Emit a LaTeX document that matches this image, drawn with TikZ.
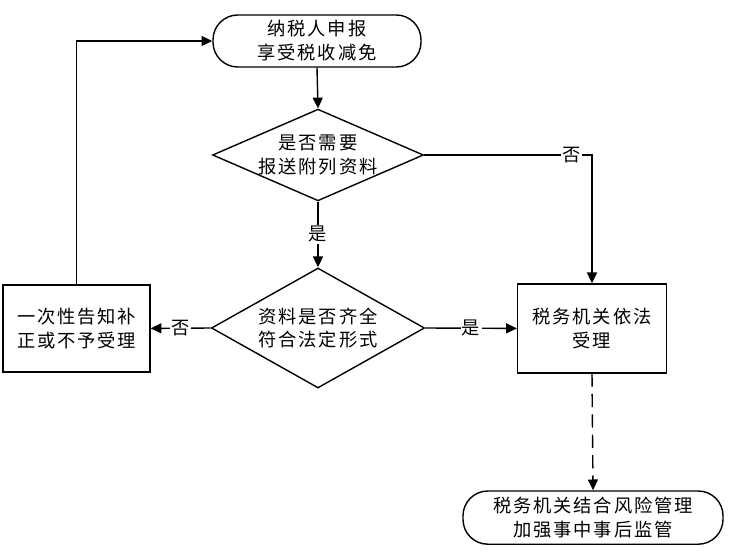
\documentclass[tikz,border=0pt]{standalone}
\usepackage{fontspec}
\setmainfont{Noto Sans CJK SC}[LetterSpace=10]
\usetikzlibrary{shapes.geometric,arrows.meta}

\begin{document}
\begin{tikzpicture}[
  every node/.style={font=\fontsize{13pt}{17pt}\selectfont, align=center},
  startend/.style={draw, rounded corners=0.62cm, line width=1pt, inner sep=0pt},
  decision/.style={draw, diamond, aspect=2.3, line width=1pt, inner sep=0pt},
  process/.style={draw, rectangle, line width=1pt, inner sep=0pt},
  flow/.style={line width=1pt, -{Triangle[length=2.7mm,width=2.5mm]}},
  tag/.style={fill=white, inner sep=1pt}
]
\useasboundingbox (0,0) rectangle (18.45,-13.95);

% 绘制节点
\node[startend, minimum width=5.2cm, minimum height=1.3cm] (apply) at (7.925,-1.025) {纳税人申报\\享受税收减免}; % 开始
\node[decision, minimum width=5.25cm, minimum height=2.25cm] (need) at (7.95,-3.875) {是否需要\\报送附列资料}; % 判断一
\node[decision, minimum width=4.9cm, minimum height=3.0cm] (check) at (7.95,-8.2) {资料是否齐全\\符合法定形式}; % 判断二
\node[process, minimum width=3.675cm, minimum height=2.175cm] (notify) at (1.91,-8.21) {一次性告知补\\正或不予受理}; % 左框
\node[process, minimum width=3.72cm, minimum height=2.22cm] (accept) at (14.8,-8.21) {税务机关依法\\受理}; % 右框
\node[startend, minimum width=6.5cm, minimum height=1.33cm] (monitor) at (14.825,-12.94) {税务机关结合风险管理\\加强事中事后监管}; % 结束

% 绘制连线
\draw[flow] (apply.south) -- (need.north);
\draw[flow] (need.south) -- node[tag] {是} (check.north);
\draw[flow] (need.east) -| node[tag, pos=0.44] {否} (accept.north);
\draw[flow] (check.east) -- node[tag] {是} (accept.west);
\draw[flow] (check.west) -- node[tag] {否} (notify.east);
\draw[flow] (notify.north) |- (apply.west);
\draw[flow, dash pattern=on 3.3mm off 1.8mm] (accept.south) -- (monitor.north);

\end{tikzpicture}
\end{document}
